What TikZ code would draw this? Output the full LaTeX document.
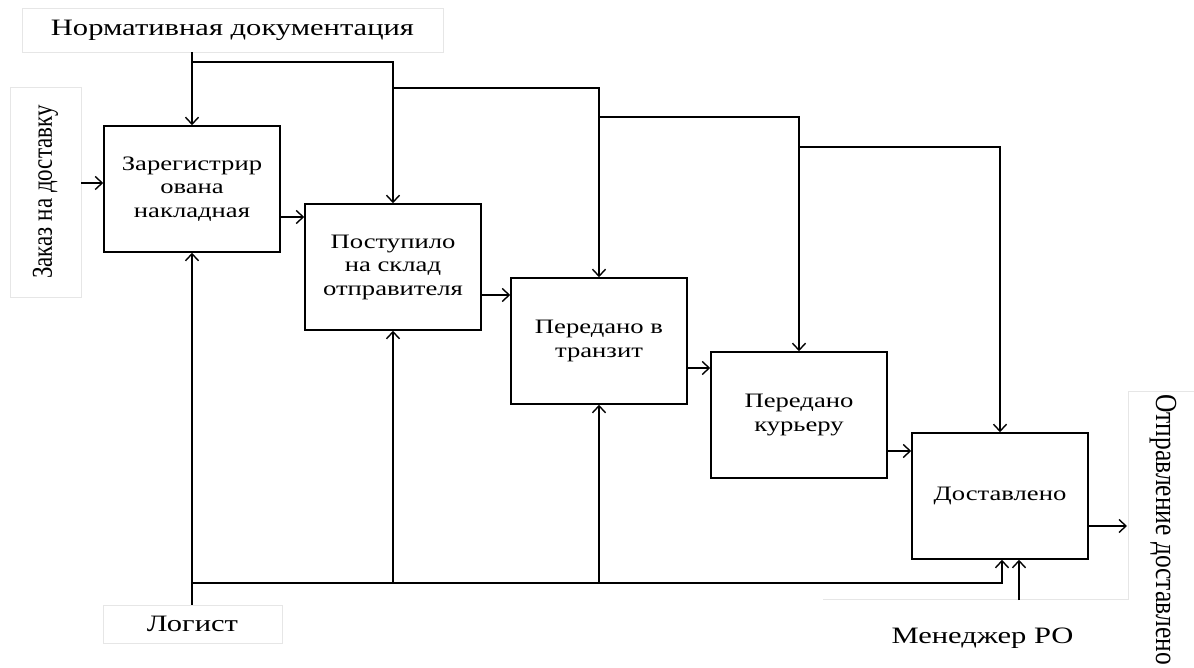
\documentclass[tikz,border=0pt]{standalone}
\usepackage{fontspec}
\setmainfont{Liberation Serif}[FakeStretch=1.3]
\newfontfamily\rotfont{Liberation Serif}
\usetikzlibrary{arrows.meta,calc}
\definecolor{faint}{HTML}{E6E6E6}
\tikzset{
  proc/.style={draw=black, line width=1.5pt, minimum width=176pt, minimum height=126pt, inner sep=0pt, align=center, font=\fontsize{20.5}{23.5}\selectfont},
  lbl/.style={draw=faint, line width=0.8pt, inner sep=0pt, font=\fontsize{23.5}{26}\selectfont},
  arr/.style={draw=black, line width=1.4pt, -{Straight Barb[length=7pt,width=13pt,line width=1.4pt]}},
  ln/.style={draw=black, line width=1.4pt}
}
\begin{document}
\begin{tikzpicture}[x=1pt,y=-1pt]
\useasboundingbox (0,0) rectangle (1194,668);
% label boxes
\node[lbl, minimum width=421pt, minimum height=44pt] (norm) at (232.5,30) {Нормативная документация};
\node[lbl, minimum width=71pt, minimum height=210pt] (zak) at (45.5,192) {};
\node[rotate=90, font=\rotfont\fontsize{23}{26}\selectfont, inner sep=0pt] (zaktext) at (zak.center) {\scalebox{1}[1.25]{Заказ на доставку}};
\node[lbl, minimum width=179pt, minimum height=38pt] (log) at (192.5,624) {Логист};
\node[font=\fontsize{23.5}{26}\selectfont, inner sep=0pt] (man) at (982.5,638) {Менеджер РО};
\node[rotate=-90, font=\rotfont\fontsize{25.5}{28}\selectfont, inner sep=0pt, anchor=west] (otp) at (1163,394) {\scalebox{1}[1.2]{Отправление доставлено}};
\draw[faint, line width=0.8pt] (823,599) -- (1128,599) -- (1128,391) -- (1194,391);
% process boxes
\node[proc] (b1) at (192,189) {Зарегистрир\\ована\\накладная};
\node[proc] (b2) at (393,267) {Поступило\\на склад\\отправителя};
\node[proc] (b3) at (599,341) {Передано в\\транзит};
\node[proc] (b4) at (799,415) {Передано\\курьеру};
\node[proc] (b5) at (1000,496) {Доставлено};
% inputs / outputs
\draw[arr] (zak.east |- 0,183) -- (b1.west |- 0,183);
\draw[arr] (b1.east |- 0,217) -- (b2.west |- 0,217);
\draw[arr] (b2.east |- 0,295) -- (b3.west |- 0,295);
\draw[arr] (b3.east |- 0,368) -- (b4.west |- 0,368);
\draw[arr] (b4.east |- 0,451) -- (b5.west |- 0,451);
\coordinate (outend) at (1127,526);
\draw[arr] (b5.east |- outend) -- (outend);
% controls
\draw[arr] (b1.north |- norm.south) -- (b1.north);
\draw[arr] (b1.north |- 0,62) -| (b2.north);
\draw[arr] (b2.north |- 0,88) -| (b3.north);
\draw[arr] (b3.north |- 0,117) -| (b4.north);
\draw[arr] (b4.north |- 0,147) -| (b5.north);
% mechanisms
\draw[arr] (b1.south |- log.north) -- (b1.south);
\coordinate (mbus) at (1002,583);
\draw[arr] (b1.south |- mbus) -| (b5.south -| mbus);
\draw[arr] (b2.south |- mbus) -- (b2.south);
\draw[arr] (b3.south |- mbus) -- (b3.south);
\coordinate (manstart) at (1019,600);
\draw[arr] (manstart) -- (b5.south -| manstart);
\end{tikzpicture}
\end{document}
